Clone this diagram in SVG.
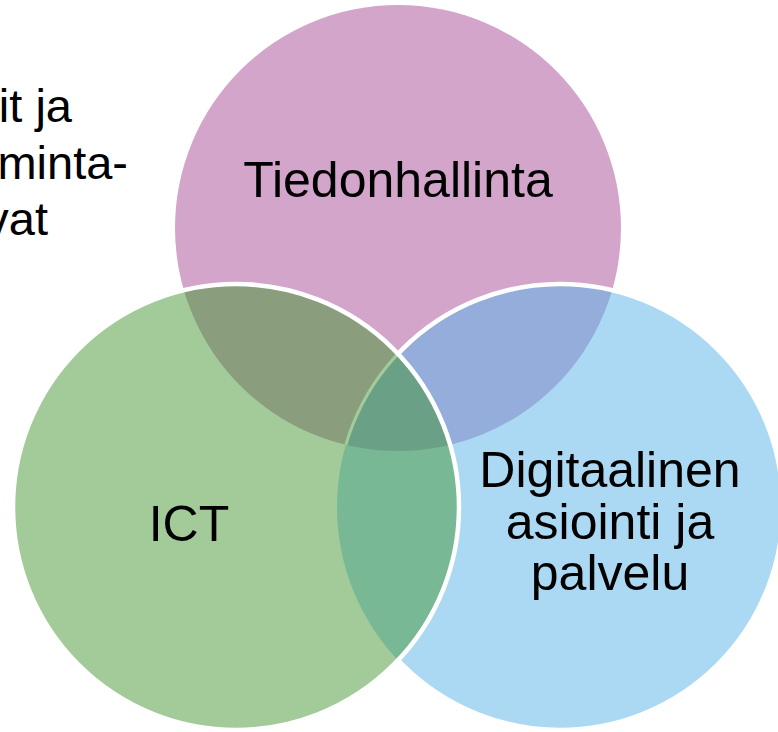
<svg xmlns="http://www.w3.org/2000/svg" width="778" height="732" viewBox="0 0 778 732">
  <style>
    .lbl { font-family: "Liberation Sans", Arial, sans-serif; font-size: 50px; fill: #000; text-anchor: middle; }
    .side { font-family: "Liberation Sans", Arial, sans-serif; font-size: 47px; fill: #000; text-anchor: end; }
    .edge { fill: none; stroke: #FFFFFF; stroke-width: 4.5; }
  </style>
  <defs>
    <clipPath id="cp-pink"><circle cx="398" cy="228" r="223"/></clipPath>
    <clipPath id="cp-blue"><circle cx="560" cy="507" r="223"/></clipPath>
    <clipPath id="cp-green"><circle cx="236" cy="507" r="223"/></clipPath>
  </defs>
  <rect width="778" height="732" fill="#FFFFFF"/>

  <g id="partial-label">
    <text class="side" x="72" y="122">it ja</text>
    <text class="side" x="128" y="179">minta-</text>
    <text class="side" x="48" y="235">vat</text>
  </g>

  <g id="node-tiedonhallinta">
    <circle cx="398" cy="228" r="223" fill="#D3A5CA"/>
    <text class="lbl" x="398" y="197">Tiedonhallinta</text>
  </g>

  <g id="node-digitaalinen">
    <circle cx="560" cy="507" r="223" fill="#ABD9F3"/>
    <g clip-path="url(#cp-pink)"><circle cx="560" cy="507" r="223" fill="#94ADDA"/></g>
    <circle class="edge" cx="560" cy="507" r="223"/>
    <text class="lbl" x="610" y="487">Digitaalinen</text>
    <text class="lbl" x="610" y="539">asiointi ja</text>
    <text class="lbl" x="610" y="590">palvelu</text>
  </g>

  <g id="node-ict">
    <circle cx="236" cy="507" r="223" fill="#A3CB9A"/>
    <g clip-path="url(#cp-pink)"><circle cx="236" cy="507" r="223" fill="#8A9E7E"/></g>
    <g clip-path="url(#cp-blue)"><circle cx="236" cy="507" r="223" fill="#78B894"/></g>
    <g clip-path="url(#cp-pink)"><g clip-path="url(#cp-blue)"><circle cx="236" cy="507" r="223" fill="#6AA186"/></g></g>
    <g clip-path="url(#cp-pink)"><g clip-path="url(#cp-green)"><circle cx="560" cy="507" r="223" fill="none" stroke="#A3CB9A" stroke-width="3"/></g></g>
    <circle class="edge" cx="236" cy="507" r="223"/>
    <text class="lbl" x="189" y="541">ICT</text>
  </g>
</svg>
